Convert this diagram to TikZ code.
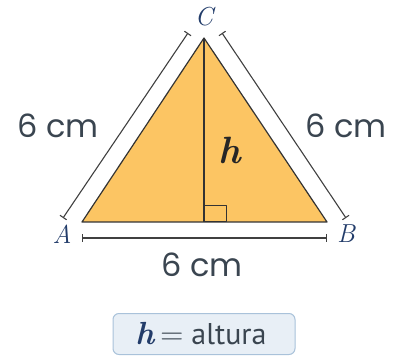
\documentclass[tikz,border=0pt]{standalone}
\usepackage{fontspec}
\setsansfont{PT Sans}
\newfontfamily\measfont{Poppins}
\usetikzlibrary{arrows.meta}

\definecolor{trifill}{HTML}{FCC563}
\definecolor{measgray}{HTML}{3A4550}
\definecolor{vertexblue}{HTML}{223C6A}
\definecolor{keyfill}{HTML}{E8EFF6}
\definecolor{keydraw}{HTML}{A9C2DA}

\begin{document}
\begin{tikzpicture}[x=1pt, y=-1pt,
    side/.style={draw=black!80, line width=1.2pt, line join=round},
    measure/.style={draw=black!75, line width=1.1pt, {Bar[width=8pt]}-{Bar[width=8pt]}},
    measlabel/.style={text=measgray, font=\measfont\fontsize{32}{32}\selectfont, inner sep=0pt},
    vertex/.style={text=vertexblue, font=\itshape\fontsize{26}{26}\selectfont, inner sep=0pt},
    keybox/.style={draw=keydraw, fill=keyfill, line width=1pt, rounded corners=6pt,
                   minimum width=182pt, minimum height=41pt}
]
    \useasboundingbox (0,0) rectangle (399,358);

    % triangle
    \coordinate (A) at (82,222);
    \coordinate (B) at (327,222);
    \coordinate (C) at (204,38);
    \coordinate (H) at (204,222);
    \fill[trifill] (A) -- (B) -- (C) -- cycle;
    \draw[side] (A) -- (B) -- (C) -- cycle;
    \draw[side] (C) -- (H);
    \draw[side, line width=1pt] (H) rectangle (226,206);

    % measures
    \coordinate (ac1) at (63,218);
    \coordinate (ac2) at (188,33);
    \coordinate (bc1) at (346,218);
    \coordinate (bc2) at (222,33);
    \coordinate (ab1) at (82,238);
    \coordinate (ab2) at (327,238);
    \draw[measure] (ac1) -- (ac2);
    \draw[measure] (bc2) -- (bc1);
    \draw[measure] (ab1) -- (ab2);

    \node[measlabel] (lac) at (58,126) {6 cm};
    \node[measlabel] (lbc) at (346,126) {6 cm};
    \node[measlabel] (lab) at (202,265) {6 cm};

    \node[vertex] (nA) at (62,234) {A};
    \node[vertex] (nB) at (346,234) {B};
    \node[vertex] (nC) at (204,17) {C};
    \node[inner sep=0pt, text=black!85, font=\bfseries\itshape\fontsize{38}{38}\selectfont] (nh) at (230,150) {h};

    % key
    \node[keybox] (key) at (204,334) {};
    \node[inner sep=0pt, text=measgray, font=\fontsize{32}{32}\selectfont] (keytext) at (201,334)
        {{\color{vertexblue}\bfseries\itshape h}\hspace{6pt}=\hspace{8pt}{\sffamily\fontsize{30}{30}\selectfont altura}};
\end{tikzpicture}
\end{document}
